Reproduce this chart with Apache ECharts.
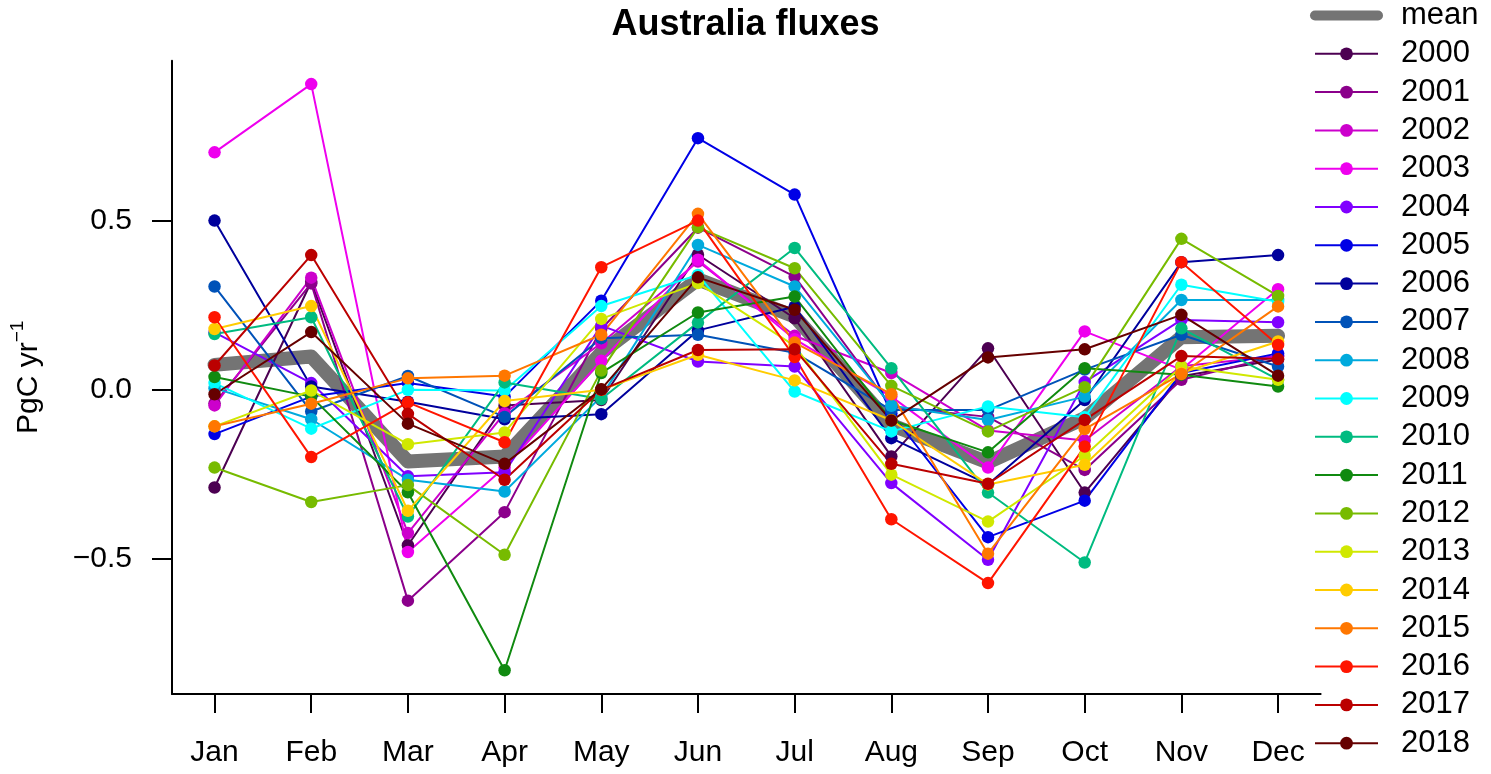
<!DOCTYPE html>
<html>
<head>
<meta charset="utf-8">
<script src="https://cdn.jsdelivr.net/npm/echarts@6/dist/echarts.min.js"></script>
<style>
html,body{margin:0;padding:0;background:#fff;}
#chart{width:1491px;height:774px;}
</style>
</head>
<body>
<div id="chart"></div>
<script>
const months = ['Jan','Feb','Mar','Apr','May','Jun','Jul','Aug','Sep','Oct','Nov','Dec'];
const yTicks = [-0.5, 0, 0.5];
const years = ['2000','2001','2002','2003','2004','2005','2006','2007','2008','2009','2010','2011','2012','2013','2014','2015','2016','2017','2018'];
const colors = ['#4c0052','#8b008b','#cc00cc','#ee00ee','#8000ff','#0000e6','#00009c','#0052b8','#00aadd','#00ffff','#00bb80','#108a10','#77bb00','#d0e800','#ffcc00','#ff7700','#ff1500','#bb0000','#660000'];

const meanFlux = [0.074, 0.099, -0.212, -0.197, 0.11, 0.327, 0.217, -0.104, -0.215, -0.084, 0.156, 0.16];
const y2000 = [-0.289, 0.32, -0.46, -0.046, -0.03, 0.40, 0.212, -0.197, 0.123, -0.304, 0.04, 0.09];
const y2001 = [-0.04, 0.315, -0.624, -0.362, 0.18, 0.48, 0.335, -0.05, -0.08, -0.237, 0.03, 0.10];
const y2002 = [-0.046, 0.332, -0.424, -0.069, 0.138, 0.38, 0.16, 0.05, -0.12, -0.15, 0.07, 0.10];
const y2003 = [0.703, 0.905, -0.48, -0.23, 0.086, 0.385, 0.15, -0.02, -0.23, 0.173, 0.06, 0.298];
const y2004 = [0.17, 0.02, -0.256, -0.244, 0.19, 0.084, 0.069, -0.276, -0.503, 0.023, 0.207, 0.20];
const y2005 = [-0.131, -0.02, 0.02, -0.02, 0.264, 0.745, 0.578, -0.07, -0.436, -0.328, 0.05, 0.108];
const y2006 = [0.501, 0.01, -0.035, -0.087, -0.072, 0.176, 0.246, -0.143, -0.28, -0.03, 0.378, 0.399];
const y2007 = [0.306, -0.064, 0.041, -0.08, 0.153, 0.163, 0.11, -0.06, -0.06, 0.06, 0.163, 0.069];
const y2008 = [0.005, -0.087, -0.266, -0.301, -0.02, 0.429, 0.306, -0.047, -0.089, -0.02, 0.266, 0.266];
const y2009 = [0.02, -0.115, 0.0, -0.002, 0.248, 0.34, -0.005, -0.123, -0.049, -0.081, 0.311, 0.261];
const y2010 = [0.165, 0.215, -0.375, 0.022, -0.027, 0.199, 0.42, 0.064, -0.304, -0.511, 0.182, 0.03];
const y2011 = [0.038, -0.02, -0.303, -0.83, 0.05, 0.229, 0.276, -0.09, -0.185, 0.064, 0.045, 0.01];
const y2012 = [-0.23, -0.332, -0.282, -0.488, 0.057, 0.481, 0.36, 0.012, -0.123, 0.008, 0.447, 0.278];
const y2013 = [-0.108, -0.002, -0.161, -0.126, 0.21, 0.316, 0.13, -0.251, -0.39, -0.195, 0.069, 0.03];
const y2014 = [0.18, 0.248, -0.358, -0.033, 0.0, 0.104, 0.028, -0.09, -0.28, -0.222, 0.05, 0.143];
const y2015 = [-0.108, -0.041, 0.034, 0.042, 0.163, 0.521, 0.14, -0.013, -0.485, -0.116, 0.047, 0.247];
const y2016 = [0.215, -0.199, -0.037, -0.155, 0.363, 0.501, 0.097, -0.383, -0.572, -0.168, 0.378, 0.133];
const y2017 = [0.072, 0.399, -0.071, -0.266, 0.0, 0.118, 0.12, -0.219, -0.278, -0.089, 0.10, 0.091];
const y2018 = [-0.013, 0.171, -0.10, -0.219, 0.002, 0.333, 0.237, -0.091, 0.096, 0.12, 0.222, 0.042];

const yearData = [y2000,y2001,y2002,y2003,y2004,y2005,y2006,y2007,y2008,y2009,y2010,y2011,y2012,y2013,y2014,y2015,y2016,y2017,y2018];

const FONT = '"Liberation Sans", Arial, Helvetica, sans-serif';
const toPairs = arr => arr.map((v, i) => [i + 1, v]);

const series = [{
  name: 'mean', type: 'line', data: toPairs(meanFlux), symbol: 'none',
  lineStyle: {color: '#747474', width: 14, cap: 'round', join: 'round'},
  itemStyle: {color: '#747474'}, z: 1, silent: true
}];
years.forEach((y, k) => {
  series.push({
    name: y, type: 'line', data: toPairs(yearData[k]),
    symbol: 'circle', symbolSize: 12.5, showSymbol: true,
    lineStyle: {color: colors[k], width: 2},
    itemStyle: {color: colors[k]}, z: 2, silent: true
  });
});

const chart = echarts.init(document.getElementById('chart'), null, {renderer: 'canvas'});
chart.setOption({
  animation: false,
  backgroundColor: '#fff',
  textStyle: {fontFamily: FONT},
  title: {
    text: 'Australia fluxes', left: 'center', top: 2,
    textStyle: {fontFamily: FONT, fontWeight: 'bold', fontSize: 36, color: '#000'}
  },
  legend: {
    orient: 'vertical', left: 1310, top: 0, padding: 0,
    itemWidth: 63, itemHeight: 16, itemGap: 7.3,
    textStyle: {fontFamily: FONT, fontSize: 31, color: '#000', lineHeight: 30, padding: [0, 0, 0, 18]},
    data: [{name: 'mean', itemStyle: {opacity: 0}, lineStyle: {width: 10, cap: 'round', color: '#747474'}}].concat(years.map(y => ({name: y}))),
    selectedMode: false
  },
  grid: {left: 170.4, right: 170.4, top: 60.8, bottom: 80.1},
  xAxis: {
    type: 'value', min: 0.56, max: 12.44,
    axisLine: {show: true, onZero: false, lineStyle: {color: '#000', width: 2}},
    axisTick: {show: true, length: 19, lineStyle: {color: '#000', width: 2}, customValues: [1,2,3,4,5,6,7,8,9,10,11,12]},
    axisLabel: {customValues: [1,2,3,4,5,6,7,8,9,10,11,12], formatter: v => months[Math.round(v) - 1],
      fontFamily: FONT, fontSize: 30, color: '#000', margin: 44},
    splitLine: {show: false}
  },
  yAxis: {
    type: 'value', min: -0.9, max: 0.974,
    name: '{a|PgC yr}{b|−1}', nameLocation: 'middle', nameRotate: 90, nameGap: 128,
    nameTextStyle: {fontFamily: FONT, color: '#000', rich: {
      a: {fontFamily: FONT, fontSize: 30, color: '#000', lineHeight: 36, verticalAlign: 'bottom'},
      b: {fontFamily: FONT, fontSize: 19, color: '#000', lineHeight: 36, verticalAlign: 'top'}
    }},
    axisLine: {show: true, onZero: false, lineStyle: {color: '#000', width: 2}},
    axisTick: {show: true, length: 20, lineStyle: {color: '#000', width: 2}, customValues: yTicks},
    axisLabel: {customValues: yTicks, formatter: v => (v < 0 ? '\u2212' : '') + Math.abs(v).toFixed(1),
      fontFamily: FONT, fontSize: 30, color: '#000', margin: 40},
    splitLine: {show: false}
  },
  series: series
});
</script>
</body>
</html>
